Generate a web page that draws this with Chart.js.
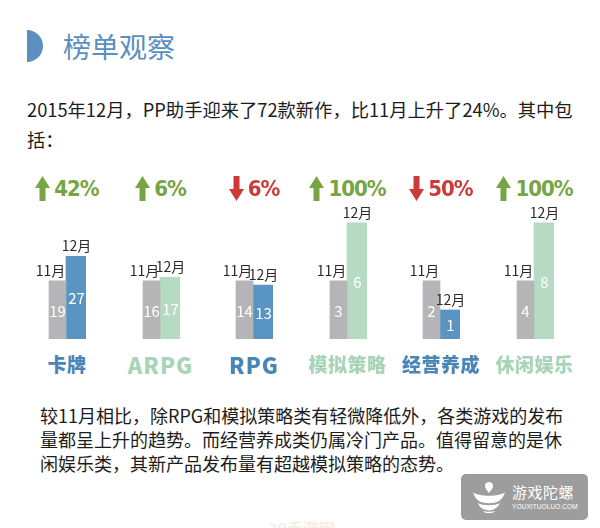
<!DOCTYPE html>
<html>
<head>
<meta charset="utf-8">
<script src="https://cdn.jsdelivr.net/npm/chart.js@4.4.1/dist/chart.umd.min.js"></script>
<style>
  html, body { margin: 0; padding: 0; background: #fff; }
  body { width: 600px; height: 528px; position: relative; overflow: hidden; font-family: "Noto Sans CJK SC", sans-serif; }
  .abs { position: absolute; }
  .half { left: 27px; top: 30px; width: 16px; height: 32px; background: #5b8fc0; border-radius: 0 16px 16px 0; }
  .title { left: 63px; top: 32px; font-size: 28px; line-height: 28px; color: #5a8fc0; white-space: nowrap; }
  .para { color: #1c1c1c; white-space: nowrap; }
  .chg { top: 175px; width: 94px; height: 27px; display: flex; justify-content: center; align-items: center; }
  .chg span { font: bold 22px "DejaVu Sans Condensed", "DejaVu Sans", sans-serif; letter-spacing: -1px; margin-left: 4px; line-height: 27px; }
  .cat { top: 352px; width: 94px; text-align: center; font-size: 19px; font-weight: 900; line-height: 24px; letter-spacing: 0.5px; }
  canvas.grp { position: absolute; top: 200px; }
  .wm { left: 461px; top: 474px; width: 127px; height: 46px; background: #9d9d9d; border-radius: 5px; }
  .wm .t1 { position: absolute; left: 51px; top: 10px; font-size: 15px; line-height: 16px; color: #fff; letter-spacing: 0.5px; }
  .wm .t2 { position: absolute; left: 51px; top: 29px; font: 6.5px "Liberation Sans", sans-serif; color: #fff; letter-spacing: 0.1px; }
  .faint { left: 268px; top: 516px; font-size: 16px; font-weight: bold; color: #f6eee6; }
</style>
</head>
<body>
<div class="abs half"></div>
<div class="abs title">榜单观察</div>
<div class="abs para" style="left:27px;top:94px;line-height:30px;font-size:18.3px;">2015年12月，PP助手迎来了72款新作，比11月上升了24%。其中包<br>括：</div>

<div id="charts"></div>

<div class="abs para" style="left:40px;top:403px;line-height:24px;font-size:18px;">较11月相比，除RPG和模拟策略类有轻微降低外，各类游戏的发布<br>量都呈上升的趋势。而经营养成类仍属冷门产品。值得留意的是休<br>闲娱乐类，其新产品发布量有超越模拟策略的态势。</div>

<div class="abs wm">
  <svg class="abs" style="left:9px;top:6px" width="38" height="36" viewBox="0 0 38 36">
    <path d="M19 2 C15 2 14 6 16 9 L19 13 L22 9 C24 6 23 2 19 2 Z" fill="#fff"/>
    <path d="M3 12 C8 17 30 17 35 12 C34 16 32 19 29 21 C24 24 14 24 9 21 C6 19 4 16 3 12 Z" fill="#fff"/>
    <path d="M8 23 C13 26 25 26 30 23 C28 27 25 29 22 30 C19 31 16 30 13 29 C11 28 9 26 8 23 Z" fill="#fff"/>
    <path d="M13 31 C16 32 22 32 25 31 C23 34 15 34 13 31 Z" fill="#fff"/>
  </svg>
  <div class="t1">游戏陀螺</div>
  <div class="t2">YOUXITUOLUO.COM</div>
</div>
<div class="abs faint">39手游网</div>

<script>
const categories = ['卡牌', 'ARPG', 'RPG', '模拟策略', '经营养成', '休闲娱乐'];
const monthLabels = ['11月', '12月'];
const novValues = [19, 16, 14, 3, 2, 4];
const decValues = [27, 17, 13, 6, 1, 8];
const changeLabels = ['42%', '6%', '6%', '100%', '50%', '100%'];
const changeUp = [true, true, false, true, false, true];

// styling
const GREY = '#b5b5b7';
const BLUE = '#5a94c2';
const GREEN = '#b5dbc3';
const decColors = [BLUE, GREEN, BLUE, GREEN, BLUE, GREEN];
const catColors = ['#4a85b8', '#a8d4b7', '#4a85b8', '#a8d4b7', '#4a85b8', '#a8d4b7'];
const UP_COLOR = '#77a444';
const DOWN_COLOR = '#cf3a38';
const SCALE_FACTOR = 2.22; // each group's y max = 11月 value * factor

const labelPlugin = {
    id: 'barLabels',
    afterDatasetsDraw(chart) {
        const ctx = chart.ctx;
        ctx.save();
        chart.data.datasets.forEach((ds, di) => {
            chart.getDatasetMeta(di).data.forEach((bar, i) => {
                const v = ds.data[i];
                if (v === null || v === undefined) return;
                // month label above the bar
                ctx.font = '14px "Noto Sans CJK SC", sans-serif';
                ctx.fillStyle = '#2a2a2a';
                ctx.textAlign = 'center';
                ctx.textBaseline = 'alphabetic';
                ctx.fillText(monthLabels[i], bar.x + (i === 0 ? -7 : 0), bar.y - 5);
                // value inside the bar
                ctx.font = '15px "Noto Sans CJK SC", sans-serif';
                ctx.fillStyle = '#ffffff';
                ctx.textBaseline = 'middle';
                ctx.fillText(String(v), bar.x, (bar.y + bar.base) / 2 + 1);
            });
        });
        ctx.restore();
    }
};

function arrowSvg(up, color) {
    const pts = up
        ? '7.5,0 15,12 10.5,12 10.5,25 4.5,25 4.5,12 0,12'
        : '4.5,0 10.5,0 10.5,13 15,13 7.5,25 0,13 4.5,13';
    return `<svg width="15" height="25" viewBox="0 0 15 25"><polygon points="${pts}" fill="${color}"/></svg>`;
}

const host = document.getElementById('charts');
categories.forEach((cat, i) => {
    const left = 20 + i * 93.5;

    const chg = document.createElement('div');
    chg.className = 'abs chg';
    chg.style.left = left + 'px';
    const col = changeUp[i] ? UP_COLOR : DOWN_COLOR;
    chg.innerHTML = arrowSvg(changeUp[i], col) + `<span style="color:${col}">${changeLabels[i]}</span>`;
    host.appendChild(chg);

    const canvas = document.createElement('canvas');
    canvas.className = 'grp';
    canvas.width = 94;
    canvas.height = 140;
    canvas.style.left = left + 'px';
    host.appendChild(canvas);

    const lab = document.createElement('div');
    lab.className = 'abs cat';
    lab.style.left = left + 'px';
    lab.style.color = catColors[i];
    if (/^[A-Z]+$/.test(cat)) { lab.style.letterSpacing = '1px'; lab.style.fontSize = '22px'; }
    lab.textContent = cat;
    host.appendChild(lab);

    new Chart(canvas, {
        type: 'bar',
        data: {
            labels: monthLabels,
            datasets: [
                { data: [novValues[i], null], backgroundColor: GREY, barThickness: 17, grouped: false },
                { data: [null, decValues[i]], backgroundColor: decColors[i], barThickness: 21, grouped: false }
            ]
        },
        options: {
            responsive: false,
            animation: false,
            events: [],
            layout: { padding: { left: 28, right: 28, top: 10, bottom: 1 } },
            plugins: { legend: { display: false }, tooltip: { enabled: false } },
            scales: {
                x: { display: false },
                y: { display: false, min: 0, max: novValues[i] * SCALE_FACTOR }
            }
        },
        plugins: [labelPlugin]
    });
});
</script>
</body>
</html>
